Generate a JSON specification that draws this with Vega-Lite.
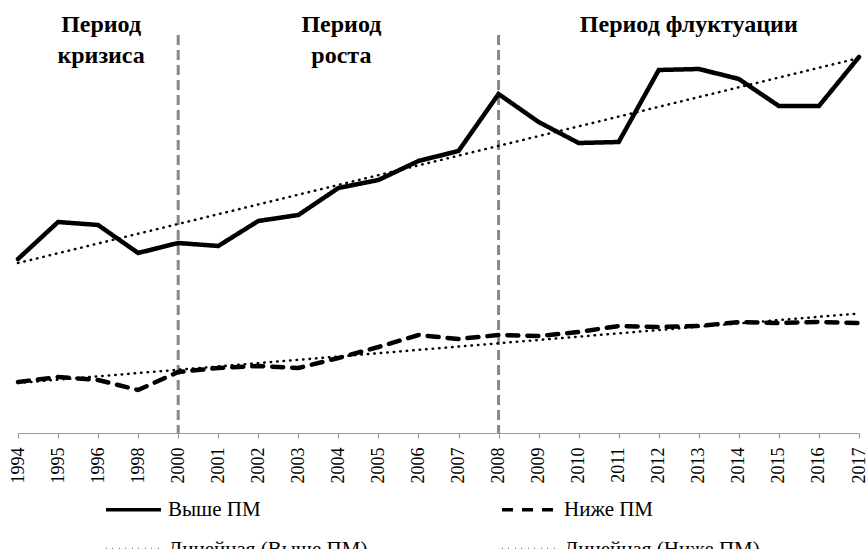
{
  "$schema": "https://vega.github.io/schema/vega-lite/v6.json",
  "width": 841,
  "height": 433,
  "padding": {"left": 8, "right": 0, "top": 0, "bottom": 0},
  "background": "white",
  "config": {
    "view": {"stroke": null},
    "font": "Liberation Serif",
    "axisX": {
      "labelAngle": -90,
      "labelFontSize": 18,
      "labelFont": "Liberation Serif",
      "labelColor": "black",
      "tickSize": 5,
      "labelPadding": 9,
      "domainColor": "#999999",
      "tickColor": "#999999",
      "domainWidth": 1.2,
      "tickWidth": 1.2,
      "grid": false
    }
  },
  "layer": [
    {
      "data": {"values": [
        {"year": "2000", "top": 398, "bottom": 0},
        {"year": "2008", "top": 398, "bottom": 0}
      ]},
      "mark": {"type": "rule", "color": "#888888", "strokeWidth": 3, "strokeDash": [10, 5]},
      "encoding": {
        "x": {"field": "year", "type": "ordinal", "title": null},
        "y": {"field": "top", "type": "quantitative", "axis": null},
        "y2": {"field": "bottom"}
      }
    },
    {
      "data": {"values": [
        {"year": "1994", "value": 174, "series": "Выше ПМ"},
        {"year": "1995", "value": 211, "series": "Выше ПМ"},
        {"year": "1996", "value": 208, "series": "Выше ПМ"},
        {"year": "1998", "value": 180, "series": "Выше ПМ"},
        {"year": "2000", "value": 190, "series": "Выше ПМ"},
        {"year": "2001", "value": 187, "series": "Выше ПМ"},
        {"year": "2002", "value": 212, "series": "Выше ПМ"},
        {"year": "2003", "value": 218, "series": "Выше ПМ"},
        {"year": "2004", "value": 245, "series": "Выше ПМ"},
        {"year": "2005", "value": 253, "series": "Выше ПМ"},
        {"year": "2006", "value": 272, "series": "Выше ПМ"},
        {"year": "2007", "value": 282, "series": "Выше ПМ"},
        {"year": "2008", "value": 339, "series": "Выше ПМ"},
        {"year": "2009", "value": 311, "series": "Выше ПМ"},
        {"year": "2010", "value": 290, "series": "Выше ПМ"},
        {"year": "2011", "value": 291, "series": "Выше ПМ"},
        {"year": "2012", "value": 363, "series": "Выше ПМ"},
        {"year": "2013", "value": 364, "series": "Выше ПМ"},
        {"year": "2014", "value": 354, "series": "Выше ПМ"},
        {"year": "2015", "value": 327, "series": "Выше ПМ"},
        {"year": "2016", "value": 327, "series": "Выше ПМ"},
        {"year": "2017", "value": 376, "series": "Выше ПМ"},
        {"year": "1994", "value": 51, "series": "Ниже ПМ"},
        {"year": "1995", "value": 56, "series": "Ниже ПМ"},
        {"year": "1996", "value": 53, "series": "Ниже ПМ"},
        {"year": "1998", "value": 43, "series": "Ниже ПМ"},
        {"year": "2000", "value": 61, "series": "Ниже ПМ"},
        {"year": "2001", "value": 65, "series": "Ниже ПМ"},
        {"year": "2002", "value": 67, "series": "Ниже ПМ"},
        {"year": "2003", "value": 65, "series": "Ниже ПМ"},
        {"year": "2004", "value": 75, "series": "Ниже ПМ"},
        {"year": "2005", "value": 86, "series": "Ниже ПМ"},
        {"year": "2006", "value": 98, "series": "Ниже ПМ"},
        {"year": "2007", "value": 94, "series": "Ниже ПМ"},
        {"year": "2008", "value": 98, "series": "Ниже ПМ"},
        {"year": "2009", "value": 97, "series": "Ниже ПМ"},
        {"year": "2010", "value": 101, "series": "Ниже ПМ"},
        {"year": "2011", "value": 107, "series": "Ниже ПМ"},
        {"year": "2012", "value": 106, "series": "Ниже ПМ"},
        {"year": "2013", "value": 107, "series": "Ниже ПМ"},
        {"year": "2014", "value": 111, "series": "Ниже ПМ"},
        {"year": "2015", "value": 110, "series": "Ниже ПМ"},
        {"year": "2016", "value": 111, "series": "Ниже ПМ"},
        {"year": "2017", "value": 110, "series": "Ниже ПМ"},
        {"year": "1994", "value": 170, "series": "Линейная (Выше ПМ)"},
        {"year": "2017", "value": 375, "series": "Линейная (Выше ПМ)"},
        {"year": "1994", "value": 50, "series": "Линейная (Ниже ПМ)"},
        {"year": "2017", "value": 119.5, "series": "Линейная (Ниже ПМ)"}
      ]},
      "mark": {"type": "line", "color": "black", "strokeCap": "round"},
      "encoding": {
        "x": {
          "field": "year",
          "type": "ordinal",
          "title": null,
          "scale": {"type": "point", "padding": 0}
        },
        "y": {
          "field": "value",
          "type": "quantitative",
          "scale": {"domain": [0, 433], "nice": false, "zero": true},
          "axis": null
        },
        "detail": {"field": "series", "type": "nominal"},
        "strokeWidth": {
          "condition": {"test": "indexof(datum.series, 'Линейная') === 0", "value": 2.5},
          "value": 4.5
        },
        "strokeDash": {
          "field": "series",
          "type": "nominal",
          "scale": {
            "domain": ["Выше ПМ", "Линейная (Выше ПМ)", "Ниже ПМ", "Линейная (Ниже ПМ)"],
            "range": [[1, 0], [0.5, 6], [11, 9], [0.5, 6]]
          },
          "legend": {
            "title": null,
            "orient": "none",
            "legendX": 86,
            "legendY": 480,
            "columns": 2,
            "columnPadding": 127,
            "rowPadding": -26,
            "padding": 0,
            "symbolType": "stroke",
            "symbolSize": 3025,
            "symbolStrokeColor": "black",
            "symbolStrokeWidth": 3.5,
            "labelFont": "Liberation Serif",
            "labelFontSize": 21,
            "labelColor": "black",
            "labelOffset": 5,
            "labelLimit": 400
          }
        }
      }
    },
    {
      "data": {"values": [
        {"year": "1996", "value": 401, "label": "Период"},
        {"year": "1996", "value": 370, "label": "кризиса"},
        {"year": "2004", "value": 401, "label": "Период"},
        {"year": "2004", "value": 370, "label": "роста"}
      ]},
      "mark": {"type": "text", "font": "Liberation Serif", "fontSize": 24, "fontWeight": "bold", "color": "black", "baseline": "alphabetic", "align": "center", "dx": 3},
      "encoding": {
        "x": {"field": "year", "type": "ordinal", "title": null},
        "y": {"field": "value", "type": "quantitative", "axis": null},
        "text": {"field": "label", "type": "nominal"}
      }
    },
    {
      "data": {"values": [
        {"year": "2013", "value": 401, "label": "Период флуктуации"}
      ]},
      "mark": {"type": "text", "font": "Liberation Serif", "fontSize": 24, "fontWeight": "bold", "color": "black", "baseline": "alphabetic", "align": "center", "dx": -10},
      "encoding": {
        "x": {"field": "year", "type": "ordinal", "title": null},
        "y": {"field": "value", "type": "quantitative", "axis": null},
        "text": {"field": "label", "type": "nominal"}
      }
    }
  ]
}
